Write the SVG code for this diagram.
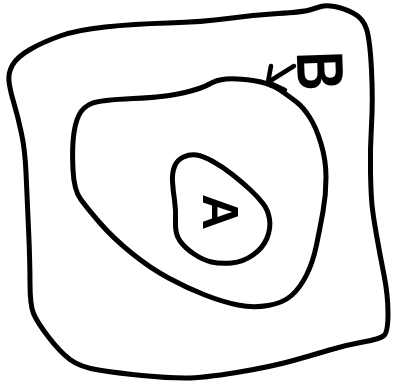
<svg xmlns="http://www.w3.org/2000/svg" width="406" height="390" viewBox="0 0 406 390">
<style>
.shape{fill:none;stroke:#000;stroke-width:5;stroke-linecap:round;stroke-linejoin:round}
.lbl{font-family:"Liberation Sans",Arial,sans-serif;font-weight:bold;fill:#000;text-anchor:middle}
.conn{fill:none;stroke:#000;stroke-width:4.5;stroke-linecap:round;stroke-linejoin:round}
</style>
<rect width="406" height="390" fill="#fff"/>
<g id="outer">
<path class="shape" d="M9,81.5 Q8,73 12.5,65 Q17,57 30,49.5 Q43,42 60,36 Q77,30 105,27 Q133,24 168,23 Q203,22 228,18.5 Q253,15 278,13.5 Q303,12 309.5,10 Q316,8 321,6.5 Q326,5 334.5,6.5 Q343,8 353,13 Q363,18 366.5,29 Q370,40 371.5,70 Q373,100 371.5,125 Q370,150 370.5,172.5 Q371,195 372,205 Q373,215 376.5,235 Q380,255 384,275 Q388,295 388,313.5 Q388,332 384,335.5 Q380,339 363,342 Q346,345 329.5,350 Q313,355 291.5,361 Q270,367 236.5,372.5 Q203,378 185,378 Q167,378 142,375.5 Q117,373 98.5,370 Q80,367 70,359.5 Q60,352 48.5,337 Q37,322 33.5,313.5 Q30,305 30,283.5 Q30,262 28.5,228.5 Q27,195 26,172.5 Q25,150 21.5,133.5 Q18,117 14,103.5 Q10,90 9,81.5 Z"/>
</g>
<g id="middle">
<path class="shape" d="M73.5,136.5 Q75,123 79,115 Q83,107 91.5,103.5 Q100,100 133.5,98.5 Q167,97 185,92.5 Q203,88 209.5,84 Q216,80 226,79 Q236,78 253,80.5 Q270,83 280,90 Q290,97 296.5,102 Q303,107 309.5,117 Q316,127 321,143.5 Q326,160 326,177.5 Q326,195 323,211.5 Q320,228 316.5,245 Q313,262 306.5,275 Q300,288 291.5,295.5 Q283,303 268,305.5 Q253,308 238,305 Q223,302 205,295 Q187,288 168.5,278 Q150,268 131.5,253 Q113,238 100,223 Q87,208 80.5,199 Q74,190 73,170 Q72,150 73.5,136.5 Z"/>
</g>
<g id="inner">
<path class="shape" d="M174.5,166.5 Q177,160 183.5,157 Q190,154 196.5,155 Q203,156 213,161.5 Q223,167 233,175 Q243,183 250.5,190 Q258,197 263,203.5 Q268,210 269.5,219 Q271,228 267,238 Q263,248 253,255 Q243,262 231.5,263 Q220,264 211.5,262 Q203,260 194,254 Q185,248 180,241 Q175,234 175.5,222 Q176,210 174.5,200 Q173,190 172.5,181.5 Q172,173 174.5,166.5 Z"/>
<text class="lbl" font-size="50" x="0" y="18" transform="translate(221,212) rotate(90)">A</text>
</g>
<g id="label-B">
<text class="lbl" font-size="60" x="0" y="21.5" transform="translate(321,71) rotate(88) scale(0.9,1.1)">B</text>
</g>
<g id="connectors">
<path class="conn" d="M294,66 L270,81"/>
<path class="conn" d="M271,66 L268,82 L285,90"/>
</g>
</svg>
